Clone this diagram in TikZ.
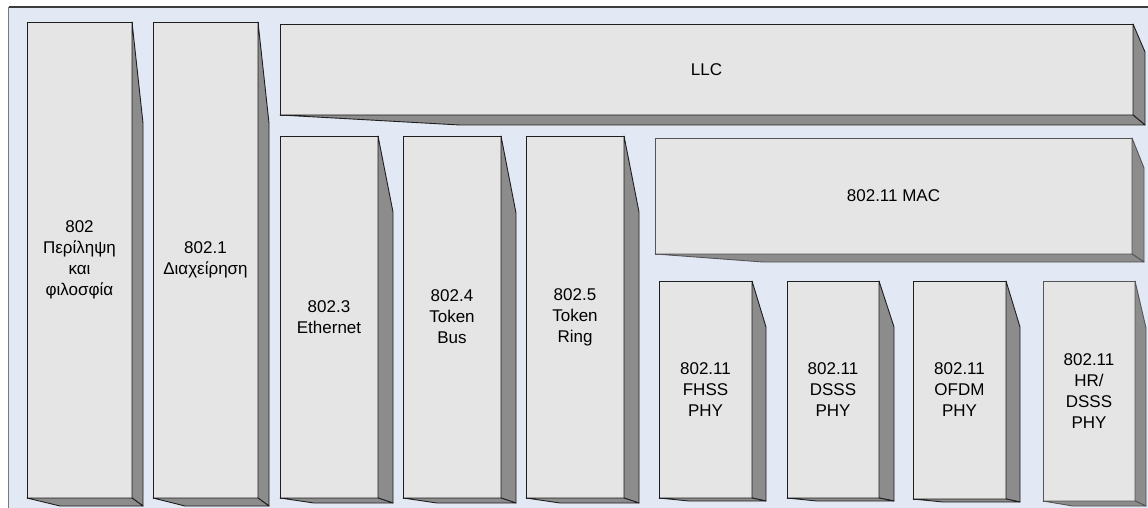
\documentclass[tikz,border=0pt]{standalone}
\usepackage{fontspec}
\setmainfont{Liberation Sans}
\usetikzlibrary{calc}
\definecolor{bgblue}{HTML}{E3E9F4}
\definecolor{facegray}{HTML}{E5E5E5}
\definecolor{sidegray}{HTML}{8C8C8C}
\definecolor{edgecol}{HTML}{1E1E1E}
\definecolor{softedge}{HTML}{555555}
\definecolor{frametop}{HTML}{3C3C3C}
\definecolor{frameleft}{HTML}{7A7A7A}
\tikzset{
  front/.style={draw=edgecol, fill=facegray, line width=0.9pt, inner sep=0pt, outer sep=0pt,
    anchor=north west, align=center, font=\fontsize{17}{21}\selectfont},
  shade3d/.style={draw=edgecol, fill=sidegray, line width=0.9pt, line join=round}
}
% #1 node name, #2 side width, #3 taper, #4 bottom depth, #5 bottom slope length, #6 edge colour
\newcommand\slabsides[6]{%
  \filldraw[shade3d, draw=#6] (#1.north east) -- ($(#1.north east)+(#2,#3)$)
     -- ($(#1.south east)+(#2,#4)$) -- (#1.south east) -- cycle;
  \filldraw[shade3d, draw=#6] (#1.south west) -- ($(#1.south west)+(#5,#4)$)
     -- ($(#1.south east)+(#2,#4)$) -- (#1.south east) -- cycle;
}
\begin{document}
\begin{tikzpicture}[x=1pt,y=-1pt]
\useasboundingbox (0,0) rectangle (1148,508);
\fill[white] (0,0) rectangle (1148,508);
\fill[bgblue] (8.5,7) rectangle (1148,508);
\draw[frameleft, line width=1.2pt] (8.5,508) -- (8.5,7);
\draw[frametop, line width=1.2pt] (8.5,7) -- (1148,7);

\node[front, minimum width=105pt, minimum height=476pt] (b1) at (27,22) {802\\Περίληψη\\και\\φιλοσφία};
\node[front, minimum width=105pt, minimum height=476pt] (b2) at (153,22) {802.1\\Διαχείρηση};
\node[front, minimum width=853pt, minimum height=91pt] (llc) at (280,24) {LLC};
\node[front, minimum width=98pt, minimum height=362pt] (e3) at (280,136) {802.3\\Ethernet};
\node[front, minimum width=98pt, minimum height=362pt] (e4) at (403,136) {802.4\\Token\\Bus};
\node[front, minimum width=98pt, minimum height=362pt] (e5) at (526,136) {802.5\\Token\\Ring};
\node[front, draw=softedge, minimum width=477pt, minimum height=116pt] (mac) at (655,138) {802.11 MAC};
\node[front, minimum width=93pt, minimum height=217pt] (fhss) at (659,281) {802.11\\FHSS\\PHY};
\node[front, minimum width=92pt, minimum height=217pt] (dsss) at (787,281) {802.11\\DSSS\\PHY};
\node[front, minimum width=93pt, minimum height=218pt] (ofdm) at (913,281) {802.11\\OFDM\\PHY};
\node[front, draw=softedge, minimum width=92pt, minimum height=220pt] (hr) at (1043,281) {802.11\\HR/\\DSSS\\PHY};

\slabsides{b1}{11}{101}{8}{33}{edgecol}
\slabsides{b2}{11}{101}{8}{32}{edgecol}
\slabsides{llc}{12}{28}{10}{180}{edgecol}
\slabsides{e3}{15}{76}{5}{34}{edgecol}
\slabsides{e4}{15}{77}{5}{34}{edgecol}
\slabsides{e5}{15}{76}{5}{34}{edgecol}
\slabsides{mac}{12}{30}{8}{108}{softedge}
\slabsides{fhss}{14}{46}{3}{30}{edgecol}
\slabsides{dsss}{15}{46}{3}{30}{edgecol}
\slabsides{ofdm}{14}{46}{3}{30}{edgecol}
\slabsides{hr}{11}{47}{5}{30}{softedge}
\end{tikzpicture}
\end{document}
